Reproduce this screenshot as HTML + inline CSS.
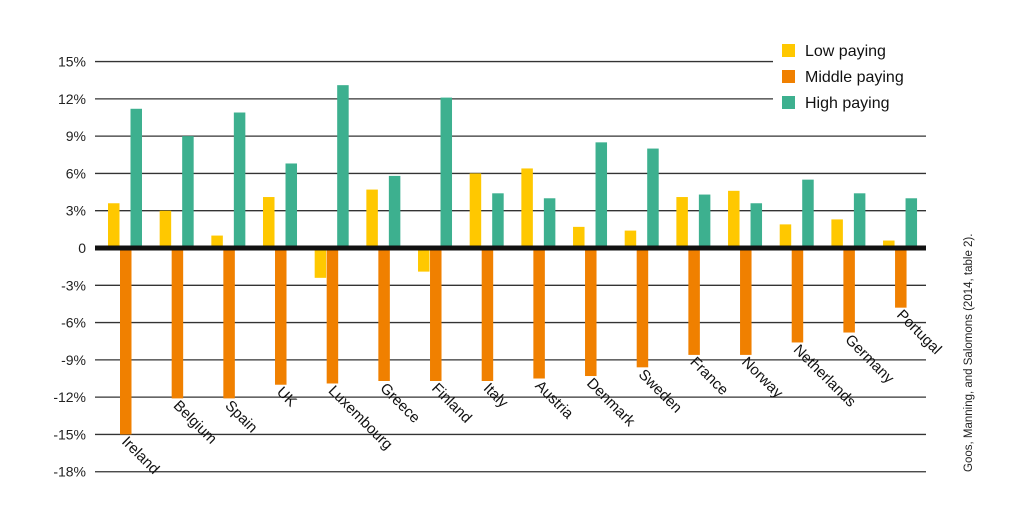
<!DOCTYPE html>
<html><head><meta charset="utf-8"><style>
body{margin:0;background:#fff;}
svg{display:block;font-family:"Liberation Sans",sans-serif;}
</style></head><body>
<svg id="chart" width="1024" height="530"></svg>
<script>
const categories=["Ireland","Belgium","Spain","UK","Luxembourg","Greece","Finland","Italy","Austria","Denmark","Sweden","France","Norway","Netherlands","Germany","Portugal"];
const lowPaying=[3.6,3.0,1.0,4.1,-2.4,4.7,-1.9,6.0,6.4,1.7,1.4,4.1,4.6,1.9,2.3,0.6];
const middlePaying=[-15.0,-12.1,-12.1,-11.0,-10.9,-10.7,-10.7,-10.7,-10.5,-10.3,-9.6,-8.6,-8.6,-7.6,-6.8,-4.8];
const highPaying=[11.2,9.0,10.9,6.8,13.1,5.8,12.1,4.4,4.0,8.5,8.0,4.3,3.6,5.5,4.4,4.0];
const tickValues=[15,12,9,6,3,0,-3,-6,-9,-12,-15,-18];
const tickLabels=["15%","12%","9%","6%","3%","0","-3%","-6%","-9%","-12%","-15%","-18%"];
const seriesNames=["Low paying","Middle paying","High paying"];
const colors=["#FFC800","#F08000","#3DB08F"];
const NS="http://www.w3.org/2000/svg";
const svg=document.getElementById('chart');
const y=v=>248-v*12.43;
const gx=i=>108+i*51.67;
function mk(t,a,p){const e=document.createElementNS(NS,t);for(const k in a)e.setAttribute(k,a[k]);(p||svg).appendChild(e);return e;}
tickValues.forEach((v,i)=>{
  const right=(v>=12)?773:926;
  if(v!==0){const l=mk('line',{x1:95,x2:right,y1:y(v),y2:y(v),stroke:'#333','stroke-width':1.3});
  
  }
  const t=mk('text',{x:86,y:y(v)+5,'text-anchor':'end','font-size':14,fill:'#222'});
  t.textContent=tickLabels[i];
  
  
});
const series=[lowPaying,middlePaying,highPaying];
const offs=[0,12,22.5];
series.forEach((arr,s)=>{
  arr.forEach((v,i)=>{
    const x=gx(i)+offs[s];
    const r=mk('rect',{x:x,y:Math.min(y(v),y(0)),width:11.5,height:Math.abs(y(v)-y(0)),fill:colors[s]});
    
    
  });
});
const z=mk('line',{x1:95,x2:926,y1:y(0),y2:y(0),stroke:'#111','stroke-width':5});


categories.forEach((c,i)=>{
  const x=gx(i)+13, yy=y(middlePaying[i])+8;
  const t=mk('text',{x:x,y:yy,'font-size':15,fill:'#111',transform:`rotate(45 ${x} ${yy})`});
  t.textContent=c;
  
  
});
seriesNames.forEach((n,i)=>{
  const g=mk('g',{});
  
  
  mk('rect',{x:782,y:44+i*26,width:13,height:13,fill:colors[i]},g);
  const t=mk('text',{x:805,y:56+i*26,'font-size':16,fill:'#111'},g);
  t.textContent=n;
});
const src=mk('text',{x:972,y:472,'font-size':11.5,fill:'#222',transform:'rotate(-90 972 472)'});
src.textContent="Goos, Manning, and Salomons (2014, table 2).";


</script>
</body></html>
